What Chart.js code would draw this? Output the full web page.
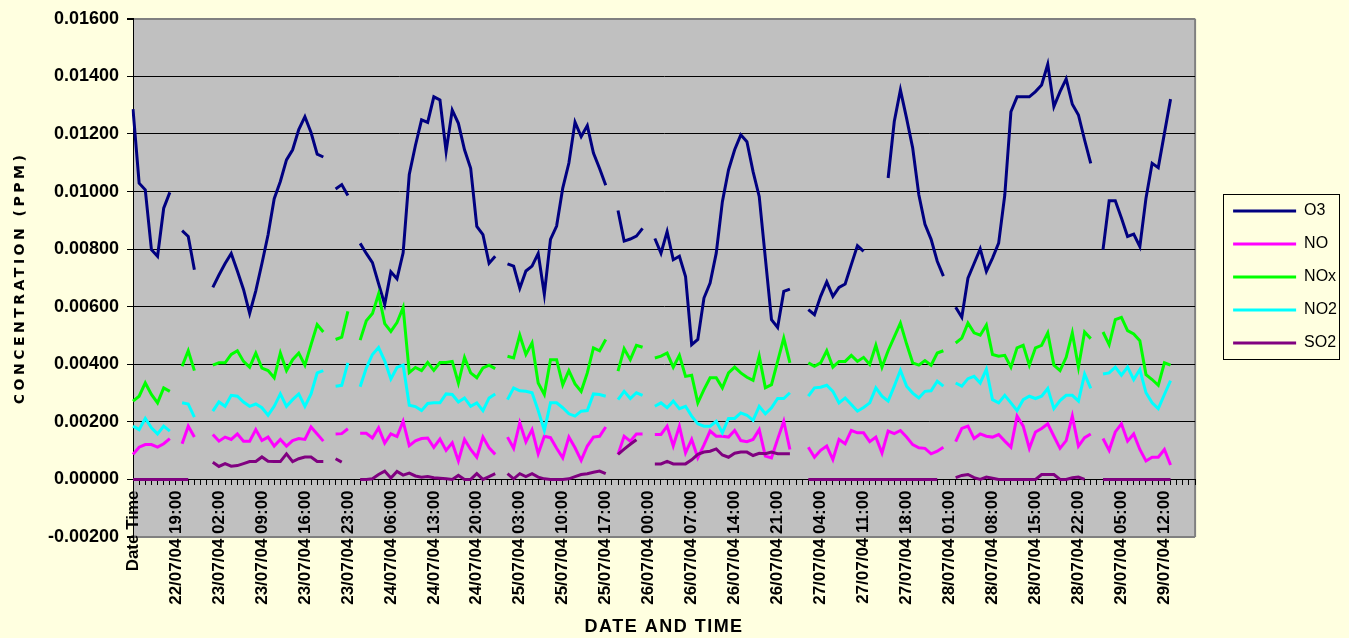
<!DOCTYPE html>
<html>
<head>
<meta charset="utf-8">
<script src="https://cdn.jsdelivr.net/npm/chart.js@4.4.1/dist/chart.umd.min.js"></script>
<style>
html,body{margin:0;padding:0;background:#FFFFE0;}
#wrap{width:1349px;height:638px;}
canvas{display:block;}
</style>
</head>
<body>
<div id="wrap"><canvas id="c" width="1349" height="638"></canvas></div>
<script>
// ---------- DATA ----------
const TICK_STEP = 7;
const tickLabels = ["Date Time","22/07/04 19:00","23/07/04 02:00","23/07/04 09:00","23/07/04 16:00","23/07/04 23:00",
  "24/07/04 06:00","24/07/04 13:00","24/07/04 20:00","25/07/04 03:00","25/07/04 10:00","25/07/04 17:00",
  "26/07/04 00:00","26/07/04 07:00","26/07/04 14:00","26/07/04 21:00","27/07/04 04:00","27/07/04 11:00",
  "27/07/04 18:00","28/07/04 01:00","28/07/04 08:00","28/07/04 15:00","28/07/04 22:00","29/07/04 05:00","29/07/04 12:00"];
const seriesNames = ["O3","NO","NOx","NO2","SO2"];
const yTicks = {min:-0.002, max:0.016, step:0.002};

const O3 = [0.01286,0.01029,0.01006,0.00798,0.00775,0.00942,0.00997,null,
0.00864,0.00844,0.00728,null,null,
0.00667,0.00710,0.00750,0.00785,0.00724,0.00660,0.00577,0.00655,0.00750,0.00850,0.00975,0.01035,0.01110,0.01145,0.01215,0.01260,0.01205,0.01130,0.01120,
null,
0.01009,0.01024,0.00986,
null,
0.00820,0.00785,0.00753,0.00680,0.00608,0.00721,0.00697,0.00787,0.01059,0.01160,0.01249,0.01240,0.01329,0.01318,0.01139,0.01283,0.01237,0.01145,0.01081,0.00879,0.00850,0.00751,0.00775,
null,
0.00749,0.00741,0.00664,0.00724,0.00741,0.00785,0.00643,0.00834,0.00880,0.01012,0.01099,0.01241,0.01191,0.01229,0.01134,0.01080,0.01022,
null,
0.00934,0.00828,0.00835,0.00845,0.00872,
null,
0.00837,0.00786,0.00861,0.00763,0.00775,0.00705,0.00468,0.00486,0.00630,0.00682,0.00786,0.00965,0.01075,0.01145,0.01197,0.01173,0.01069,0.00983,0.00769,0.00555,0.00528,0.00653,0.00661,
null,null,
0.00590,0.00572,0.00636,0.00686,0.00636,0.00667,0.00679,0.00746,0.00812,0.00792,
null,null,null,
0.01047,0.01243,0.01353,0.01255,0.01151,0.00989,0.00886,0.00834,0.00758,0.00706,
null,
0.00598,0.00563,0.00699,0.00750,0.00801,0.00723,0.00769,0.00821,0.00988,0.01277,0.01329,0.01329,0.01329,0.01347,0.01370,0.01442,0.01295,0.01347,0.01391,0.01303,0.01266,0.01179,0.01098,
null,
0.00798,0.00968,0.00968,0.00908,0.00844,0.00852,0.00809,0.00977,0.01098,0.01083,0.01202,0.01321,
null,null,null,null];

const NO = [0.00087,0.00112,0.00121,0.00121,0.00112,0.00124,0.00142,null,
0.00124,0.00185,0.00147,null,null,
0.00156,0.00133,0.00147,0.00139,0.00158,0.00133,0.00133,0.00173,0.00135,0.00147,0.00116,0.00139,0.00116,0.00135,0.00142,0.00139,0.00182,0.00158,0.00133,
null,
0.00158,0.00159,0.00176,
null,
0.00160,0.00160,0.00144,0.00179,0.00126,0.00158,0.00149,0.00202,0.00117,0.00134,0.00142,0.00144,0.00111,0.00140,0.00101,0.00127,0.00064,0.00139,0.00104,0.00077,0.00147,0.00110,0.00087,
null,
0.00147,0.00108,0.00197,0.00131,0.00173,0.00089,0.00150,0.00145,0.00108,0.00075,0.00147,0.00110,0.00066,0.00116,0.00147,0.00150,0.00182,
null,
0.00087,0.00150,0.00133,0.00158,0.00158,
null,
0.00156,0.00156,0.00185,0.00116,0.00185,0.00092,0.00139,0.00075,0.00120,0.00168,0.00150,0.00150,0.00147,0.00170,0.00135,0.00131,0.00139,0.00173,0.00081,0.00075,0.00140,0.00202,0.00104,
null,null,
0.00112,0.00077,0.00101,0.00116,0.00069,0.00139,0.00124,0.00170,0.00162,0.00162,0.00131,0.00147,0.00092,0.00168,0.00159,0.00170,0.00147,0.00121,0.00110,0.00108,0.00089,0.00098,0.00112,
null,
0.00131,0.00177,0.00185,0.00142,0.00158,0.00150,0.00147,0.00156,0.00133,0.00112,0.00220,0.00185,0.00108,0.00165,0.00177,0.00193,0.00150,0.00108,0.00135,0.00220,0.00116,0.00145,0.00158,
null,
0.00142,0.00101,0.00165,0.00193,0.00133,0.00158,0.00104,0.00064,0.00077,0.00077,0.00104,0.00050,
null,null,null,null];

const NOx = [0.00272,0.00289,0.00335,0.00295,0.00266,0.00318,0.00306,null,
0.00393,0.00447,0.00378,null,null,
0.00397,0.00405,0.00405,0.00434,0.00447,0.00410,0.00390,0.00439,0.00387,0.00378,0.00353,0.00439,0.00378,0.00416,0.00439,0.00397,0.00468,0.00538,0.00512,
null,
0.00486,0.00494,0.00584,
null,
0.00484,0.00551,0.00576,0.00644,0.00541,0.00514,0.00545,0.00597,0.00371,0.00389,0.00378,0.00406,0.00379,0.00406,0.00406,0.00410,0.00335,0.00424,0.00370,0.00353,0.00387,0.00397,0.00385,
null,
0.00428,0.00422,0.00501,0.00434,0.00474,0.00335,0.00295,0.00416,0.00416,0.00329,0.00378,0.00332,0.00306,0.00370,0.00457,0.00447,0.00486,
null,
0.00376,0.00454,0.00416,0.00466,0.00459,
null,
0.00422,0.00428,0.00439,0.00390,0.00431,0.00358,0.00362,0.00266,0.00312,0.00353,0.00353,0.00318,0.00370,0.00390,0.00370,0.00355,0.00344,0.00428,0.00318,0.00329,0.00410,0.00491,0.00405,
null,null,
0.00405,0.00393,0.00405,0.00447,0.00390,0.00410,0.00410,0.00431,0.00410,0.00424,0.00399,0.00466,0.00390,0.00447,0.00495,0.00543,0.00471,0.00405,0.00397,0.00413,0.00397,0.00439,0.00447,
null,
0.00474,0.00491,0.00543,0.00509,0.00501,0.00536,0.00434,0.00428,0.00431,0.00390,0.00457,0.00466,0.00397,0.00457,0.00466,0.00509,0.00397,0.00378,0.00424,0.00509,0.00390,0.00512,0.00489,
null,
0.00512,0.00468,0.00555,0.00563,0.00517,0.00505,0.00482,0.00364,0.00347,0.00327,0.00405,0.00397,
null,null,null,null];

const NO2 = [0.00185,0.00173,0.00212,0.00179,0.00158,0.00185,0.00168,null,
0.00266,0.00262,0.00216,null,null,
0.00237,0.00269,0.00254,0.00292,0.00289,0.00269,0.00254,0.00262,0.00249,0.00223,0.00254,0.00297,0.00254,0.00277,0.00297,0.00254,0.00297,0.00370,0.00378,
null,
0.00324,0.00327,0.00405,
null,
0.00322,0.00387,0.00434,0.00458,0.00412,0.00349,0.00389,0.00397,0.00258,0.00253,0.00239,0.00264,0.00266,0.00266,0.00297,0.00295,0.00269,0.00283,0.00254,0.00266,0.00239,0.00283,0.00297,
null,
0.00277,0.00318,0.00308,0.00306,0.00301,0.00239,0.00170,0.00266,0.00266,0.00249,0.00228,0.00220,0.00237,0.00239,0.00297,0.00295,0.00289,
null,
0.00277,0.00306,0.00281,0.00301,0.00292,
null,
0.00254,0.00266,0.00249,0.00272,0.00246,0.00254,0.00220,0.00193,0.00185,0.00185,0.00202,0.00162,0.00212,0.00212,0.00231,0.00223,0.00205,0.00254,0.00228,0.00249,0.00281,0.00281,0.00301,
null,null,
0.00289,0.00318,0.00320,0.00327,0.00306,0.00266,0.00283,0.00260,0.00237,0.00250,0.00266,0.00318,0.00289,0.00272,0.00324,0.00379,0.00324,0.00300,0.00283,0.00306,0.00308,0.00341,0.00324,
null,
0.00335,0.00324,0.00350,0.00358,0.00335,0.00382,0.00277,0.00266,0.00292,0.00266,0.00239,0.00277,0.00289,0.00281,0.00289,0.00316,0.00246,0.00274,0.00292,0.00292,0.00272,0.00366,0.00316,
null,
0.00366,0.00370,0.00390,0.00362,0.00390,0.00347,0.00382,0.00301,0.00266,0.00246,0.00295,0.00343,
null,null,null,null];

const SO2 = [0,0,0,0,0,0,0,0,0,0,null,null,null,
0.00060,0.00045,0.00055,0.00046,0.00048,0.00055,0.00062,0.00062,0.00078,0.00063,0.00062,0.00062,0.00089,0.00062,0.00072,0.00078,0.00078,0.00062,0.00062,
null,
0.00072,0.00060,
null,null,
0,0,0.00002,0.00017,0.00029,0.00005,0.00028,0.00015,0.00022,0.00012,0.00008,0.00010,0.00006,0.00004,0.00002,0,0.00014,0,0,0.00020,0,0.00010,0.00020,
null,
0.00020,0.00002,0.00020,0.00010,0.00020,0.00008,0.00002,0,0,0,0.00002,0.00010,0.00017,0.00020,0.00025,0.00029,0.00020,
null,
0.00087,0.00105,0.00122,0.00138,
null,null,
0.00054,0.00054,0.00063,0.00054,0.00054,0.00054,0.00068,0.00087,0.00095,0.00098,0.00106,0.00085,0.00077,0.00091,0.00095,0.00095,0.00083,0.00091,0.00089,0.00095,0.00089,0.00089,0.00089,
null,null,
0,0,0,0,0,0,0,0,0,0,0,0,0,0,0,0,0,0,0,0,0,0,
null,null,
0.00006,0.00014,0.00017,0.00006,0,0.00008,0.00004,0,0,0,0,0,0,0,0.00017,0.00017,0.00017,0,0,0.00006,0.00008,0,
null,null,
0,0,0,0,0,0,0,0,0,0,0,0,
null,null,null,null];

// hourly categories: 22/07/04 12:00 onwards (first row header "Date Time")
const N_CAT = O3.length;
const categories = [];
for (let i = 0; i < N_CAT; i++) {
  if (i === 0) { categories.push(tickLabels[0]); continue; }
  const h = 12 + i, d = 22 + Math.floor(h / 24), hh = h % 24;
  categories.push(String(d).padStart(2,'0') + "/07/04 " + String(hh).padStart(2,'0') + ":00");
}

// ---------- STYLE ----------
const PAGE_BG = '#FFFFE0';
const PLOT_BG = '#C0C0C0';
const EDGE = '#808080';
const colors = {O3:'#000080', NO:'#FF00FF', NOx:'#00FF00', NO2:'#00FFFF', SO2:'#800080'};
const seriesData = {O3, NO, NOx, NO2, SO2};

Chart.defaults.font.family = '"Liberation Sans", Arial, sans-serif';
Chart.defaults.color = '#000';

const plotBg = {
  id: 'plotBg',
  beforeDraw(chart) {
    const {ctx, chartArea: a, width, height} = chart;
    ctx.save();
    ctx.fillStyle = PAGE_BG;
    ctx.fillRect(0, 0, width, height);
    ctx.fillStyle = PLOT_BG;
    ctx.fillRect(a.left, a.top, a.right - a.left, a.bottom - a.top);
    ctx.strokeStyle = EDGE;
    ctx.lineWidth = 2;
    ctx.beginPath();
    ctx.moveTo(a.right, a.top);
    ctx.lineTo(a.right, a.bottom);
    ctx.stroke();
    ctx.restore();
  },
  afterLayout(chart) {
    ['x','y'].forEach(id => {
      const s = chart.scales[id];
      if (s && !s._spaced) {
        const orig = s.drawTitle.bind(s);
        const sp = id === 'y' ? '3.5px' : '1.5px';
        s.drawTitle = function () { const c = this.ctx; c.save(); c.letterSpacing = sp; orig(); c.restore(); };
        s._spaced = true;
      }
    });
  },
  afterDraw(chart) {
    const lg = chart.legend;
    if (!lg || !lg.legendHitBoxes || !lg.legendHitBoxes.length) return;
    const hb = lg.legendHitBoxes;
    const left = Math.min(...hb.map(h => h.left)) - 10;
    const right = Math.max(...hb.map(h => h.left + h.width)) + 2;
    const top = hb[0].top - 9;
    const last = hb[hb.length - 1];
    const bottom = last.top + last.height + 8;
    const ctx = chart.ctx;
    ctx.save();
    ctx.strokeStyle = '#000';
    ctx.lineWidth = 1;
    ctx.strokeRect(Math.round(left) + 0.5, Math.round(top) + 0.5, Math.round(right - left), Math.round(bottom - top));
    ctx.restore();
  }
};

const datasets = seriesNames.map((name, k) => ({
  label: name,
  data: seriesData[name],
  borderColor: colors[name],
  backgroundColor: colors[name],
  borderWidth: 3,
  pointRadius: 0,
  pointHoverRadius: 0,
  tension: 0,
  spanGaps: false,
  order: seriesNames.length - k
}));

const edgeTick = (c) => {
  const v = c.tick ? c.tick.value : null;
  return (v !== null && (Math.abs(v - yTicks.max) < 1e-9 || Math.abs(v - yTicks.min) < 1e-9));
};

new Chart(document.getElementById('c'), {
  type: 'line',
  data: { labels: categories, datasets },
  plugins: [plotBg],
  options: {
    responsive: false,
    animation: false,
    devicePixelRatio: 1,
    layout: { padding: { top: 17, bottom: 101, left: 0, right: 2 } },
    plugins: {
      tooltip: { enabled: false },
      title: { display: false },
      legend: {
        position: 'right',
        align: 'center',
        labels: {
          usePointStyle: true,
          pointStyle: 'line',
          pointStyleWidth: 63,
          font: { size: 16 },
          color: '#000',
          padding: 17,
          sort: (a, b) => a.datasetIndex - b.datasetIndex
        }
      }
    },
    scales: {
      x: {
        type: 'category',
        position: { y: 0 },
        offset: false,
        grid: { display: true, drawOnChartArea: false, drawTicks: true, tickLength: 5, color: '#000' },
        border: { display: true, color: '#000', width: 1 },
        ticks: {
          autoSkip: false,
          minRotation: 90,
          maxRotation: 90,
          padding: 6,
          color: '#000',
          font: { size: 17, weight: 'bold' },
          callback: function (v, i) { return i % TICK_STEP === 0 ? tickLabels[i / TICK_STEP] : ''; }
        },
        title: {
          display: true,
          text: 'DATE AND TIME',
          color: '#000',
          font: { size: 18, weight: 'bold' },
          padding: { top: 5, bottom: 0 }
        }
      },
      y: {
        type: 'linear',
        position: 'left',
        min: yTicks.min,
        max: yTicks.max,
        afterFit(s) { s.width = 133; },
        grid: {
          color: c => edgeTick(c) ? EDGE : '#000',
          lineWidth: c => edgeTick(c) ? 2 : 1,
          drawTicks: true,
          tickLength: 6,
          tickColor: '#000'
        },
        border: { display: true, color: '#000', width: 1 },
        ticks: {
          stepSize: yTicks.step,
          padding: 8,
          color: '#000',
          font: { size: 18, weight: 'bold' },
          callback: v => (Math.abs(v) < 1e-12 ? 0 : v).toFixed(5)
        },
        title: {
          display: true,
          text: 'CONCENTRATION (PPM)',
          color: '#000',
          font: { family: '"DejaVu Sans", sans-serif', size: 14, weight: 'bold' },
          padding: { top: 12, bottom: 0 }
        }
      },
      ySpacer: {
        type: 'linear',
        position: 'right',
        display: true,
        grid: { display: false, drawTicks: false },
        border: { display: false },
        ticks: { display: false },
        afterFit(s) { s.width = 21; }
      }
    }
  }
});
</script>
</body>
</html>
